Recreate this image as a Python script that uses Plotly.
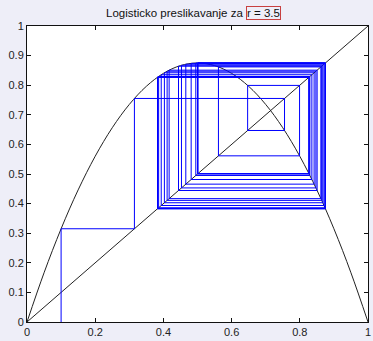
import plotly.graph_objects as go

# Logistic map r = 3.5: parabola samples (x, f(x))
curve_x = [0.0, 0.05, 0.1, 0.15, 0.2, 0.25, 0.3, 0.35, 0.4, 0.45, 0.5,
           0.55, 0.6, 0.65, 0.7, 0.75, 0.8, 0.85, 0.9, 0.95, 1.0]
curve_y = [0.0, 0.1663, 0.315, 0.4463, 0.56, 0.6563, 0.735, 0.7963, 0.84, 0.8663, 0.875,
           0.8663, 0.84, 0.7963, 0.735, 0.6563, 0.56, 0.4463, 0.315, 0.1663, 0.0]

# diagonal y = x
diag_x = [0.0, 1.0]
diag_y = [0.0, 1.0]

# orbit starting at x0 = 0.1
orbit = [0.1, 0.315, 0.7552, 0.6470, 0.7993, 0.5614, 0.8618, 0.4168, 0.8508, 0.4443,
         0.8641, 0.4109, 0.8472, 0.4530, 0.8673, 0.4029, 0.8420, 0.4657, 0.8709, 0.3936,
         0.8354, 0.4814, 0.8738, 0.3860, 0.8295, 0.4950, 0.8749, 0.3830, 0.8271, 0.5005,
         0.8750, 0.3828, 0.8269, 0.5009, 0.8750, 0.3828, 0.8269, 0.5009, 0.8750]

# cobweb path built from orbit
web_x = [orbit[0]]
web_y = [0.0]
for i in range(len(orbit) - 1):
    web_x += [orbit[i], orbit[i + 1]]
    web_y += [orbit[i + 1], orbit[i + 1]]

fig = go.Figure()
fig.add_trace(go.Scatter(x=curve_x, y=curve_y, mode="lines",
                         line=dict(color="#222222", width=1, shape="spline"),
                         hoverinfo="skip", showlegend=False))
fig.add_trace(go.Scatter(x=diag_x, y=diag_y, mode="lines",
                         line=dict(color="#222222", width=1),
                         hoverinfo="skip", showlegend=False))
fig.add_trace(go.Scatter(x=web_x, y=web_y, mode="lines",
                         line=dict(color="#0000ff", width=1),
                         hoverinfo="skip", showlegend=False))

axis_common = dict(range=[0, 1], showgrid=False, zeroline=False,
                   showline=True, linecolor="#111111", linewidth=1,
                   mirror="ticks", ticks="inside", ticklen=4, tickcolor="#111111",
                   ticklabeloverflow="allow",
                   tickfont=dict(family="Liberation Sans, Arial", size=11, color="#222222"))

fig.update_xaxes(tickvals=[0, 0.2, 0.4, 0.6, 0.8, 1],
                 ticktext=["0", "0.2", "0.4", "0.6", "0.8", "1"], **axis_common)
fig.update_yaxes(tickvals=[0, 0.1, 0.2, 0.3, 0.4, 0.5, 0.6, 0.7, 0.8, 0.9, 1],
                 ticktext=["0", "0.1", "0.2", "0.3", "0.4", "0.5", "0.6", "0.7", "0.8", "0.9", "1"],
                 **axis_common)

fig.update_layout(
    width=373, height=341,
    margin=dict(l=27, r=2, t=26, b=19),
    paper_bgcolor="#eeeef8",
    plot_bgcolor="#ffffff",
    annotations=[
        dict(text="Logisticko preslikavanje za", xref="paper", yref="paper",
             x=0.640, y=1.044, xanchor="right", yanchor="middle", showarrow=False,
             font=dict(family="Liberation Sans, Arial", size=11.5, color="#111111")),
        dict(text="r = 3.5", xref="paper", yref="paper",
             x=0.642, y=1.044, xanchor="left", yanchor="middle", showarrow=False,
             bordercolor="#c84040", borderwidth=1, borderpad=0,
             font=dict(family="Liberation Sans, Arial", size=11.5, color="#111111")),
    ],
)

fig.write_html("out.html")
